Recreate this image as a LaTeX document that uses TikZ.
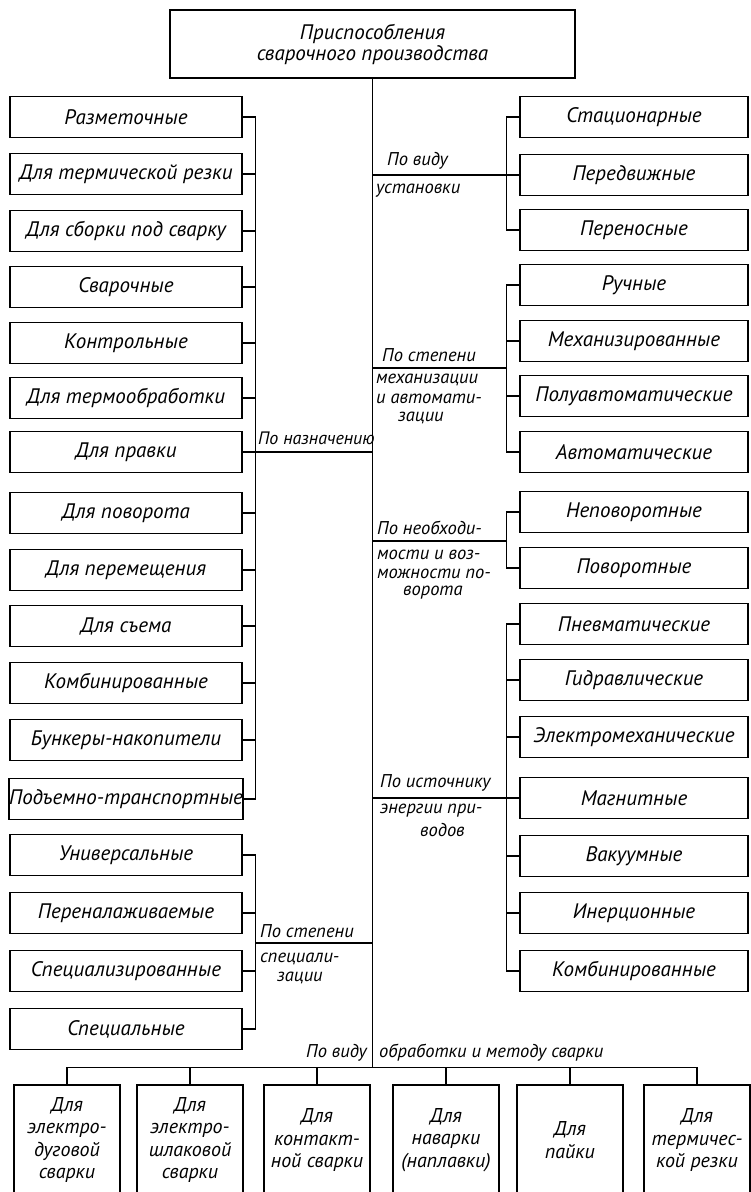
\documentclass[tikz,border=0pt]{standalone}
\usepackage{fontspec}
\setmainfont{PT Sans}
\begin{document}
\begin{tikzpicture}[x=1pt,y=-1pt,
 box/.style={draw,line width=1.6pt,minimum width=232pt,minimum height=41pt,inner sep=0pt,font=\itshape\fontsize{21}{23}\selectfont},
 rbox/.style={box,minimum width=228pt},
 bbox/.style={draw,line width=1.6pt,minimum width=106pt,minimum height=110pt,inner sep=0pt,align=center,font=\itshape\fontsize{20}{22.5}\selectfont},
 lbl/.style={anchor=west,inner sep=0pt,font=\itshape\fontsize{18.5}{20}\selectfont},
 ln/.style={line width=1.3pt}]
\useasboundingbox (0,0) rectangle (751,1192);
\clip (0,0) rectangle (751,1192);
\node[box,minimum width=405pt,minimum height=68pt,align=center,font=\itshape\fontsize{21}{21}\selectfont] (top) at (372.5,44) {Приспособления\\сварочного производства};
\foreach \t/\yy [count=\i from 0] in {Разметочные/117,Для термической резки/174,Для сборки под сварку/231,Сварочные/287,Контрольные/343,Для термообработки/398,Для правки/452,Для поворота/513,Для перемещения/570,Для съема/626,Комбинированные/683,Бункеры-накопители/740,Подъемно-транспортные/799,Универсальные/855,Переналаживаемые/913,Специализированные/971,Специальные/1029}
  \node[box] (L\i) at (126,\yy) {\t};
\foreach \t/\yy [count=\i from 0] in {Стационарные/117,Передвижные/175,Переносные/230,Ручные/285,Механизированные/341,Полуавтоматические/396,Автоматические/452,Неповоротные/512,Поворотные/568,Пневматические/624,Гидравлические/680,Электромеханические/737,Магнитные/798,Вакуумные/856,Инерционные/913,Комбинированные/971}
  \node[rbox] (R\i) at (634,\yy) {\t};
\foreach \t/\xx [count=\i from 1] in {{Для\\электро-\\дуговой\\сварки}/67,{Для\\электро-\\шлаковой\\сварки}/190,{Для\\контакт-\\ной сварки}/317,{Для\\наварки\\(наплавки)}/446,{Для\\пайки}/570,{Для\\термичес-\\кой резки}/697}
  \node[bbox] (B\i) at (\xx,1140) {\t};
% trunk
\coordinate (busC) at (372.5,1068);
\draw[ln] (top.south) -- (busC);
% left group 1
\draw[ln] (L0.east) -- ++(13,0) |- (L12.east);
\foreach \i in {1,...,11} \draw[ln] (L\i.east) -- ++(13,0);
\draw[ln] (L6.east) -- (L6.east -| top.south);
% left group 2
\draw[ln] (L13.east) -- ++(13,0) |- (L16.east);
\foreach \i in {14,15} \draw[ln] (L\i.east) -- ++(13,0);
\coordinate (bS) at (255,943);
\draw[ln] (bS) -- (bS -| top.south);
% right group A
\draw[ln] (R0.west) -- ++(-13,0) |- (R2.west);
\draw[ln] (R1.west) -- (R1.west -| top.south);
% right group B
\draw[ln] (R3.west) -- ++(-13,0) |- (R6.west);
\foreach \i in {4,5} \draw[ln] (R\i.west) -- ++(-13,0);
\coordinate (bM) at (507,368);
\draw[ln] (bM) -- (bM -| top.south);
% right group C
\draw[ln] (R7.west) -- ++(-13,0) |- (R8.west);
\coordinate (bN) at (507,541);
\draw[ln] (bN) -- (bN -| top.south);
% right group D
\draw[ln] (R9.west) -- ++(-13,0) |- (R15.west);
\foreach \i in {10,11,13,14} \draw[ln] (R\i.west) -- ++(-13,0);
\draw[ln] (R12.west) -- (R12.west -| top.south);
% bottom bus
\draw[ln] (B1.north) -- ++(0,-17) -| (B6.north);
\foreach \i in {2,...,5} \draw[ln] (B\i.north) -- ++(0,-17);
% labels
\node[lbl] (la1) at (387,161) {По виду};
\node[lbl] (la2) at (376,191) {установки};
\node[lbl] (lb1) at (382,355) {По степени};
\node[lbl] (lb2) at (376,380) {механизации};
\node[lbl] (lb3) at (376,399) {и автомати-};
\node[lbl] (lb4) at (398,418) {зации};
\node[lbl] (lc1) at (377,528) {По необходи-};
\node[lbl] (lc2) at (377,555) {мости и воз-};
\node[lbl] (lc3) at (377,574) {можности по-};
\node[lbl] (lc4) at (403,593) {ворота};
\node[lbl] (ld1) at (380,783) {По источнику};
\node[lbl] (ld2) at (380,811) {энергии при-};
\node[lbl] (ld3) at (420,830) {водов};
\node[lbl,font=\itshape\fontsize{18}{20}\selectfont] (le1) at (258,438) {По назначению};
\node[lbl] (lf1) at (260,931) {По степени};
\node[lbl] (lf2) at (260,959) {специали-};
\node[lbl] (lf3) at (277,978) {зации};
\node[lbl] (lg1) at (306,1053) {По виду};
\node[lbl] (lg2) at (379,1053) {обработки и методу сварки};
\end{tikzpicture}
\end{document}
